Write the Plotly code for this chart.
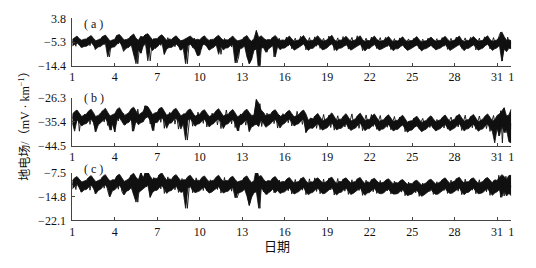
import plotly.graph_objects as go

# ---- data ----
# upper / lower envelope of the dense band, 4-hourly (6 per day), day 1 .. day 32
a_hi = [
 -4.3,-3.6,-3.0,-4.0,-4.6,-4.2,  -4.1,-3.4,-2.8,-3.9,-4.8,-4.4,  -4.0,-3.1,-2.6,-3.7,-4.9,-4.5,
 -4.2,-2.7,-2.4,-3.5,-4.5,-4.3,  -3.9,-2.9,-2.2,-3.8,-4.6,-3.1,  -3.4,-2.4,-2.1,-3.3,-4.4,-4.0,
 -4.0,-3.0,-2.5,-3.6,-4.7,-4.1,  -4.3,-3.5,-2.9,-3.9,-4.8,-4.5,  -4.1,-3.6,-3.0,-3.8,-4.5,-4.2,
 -4.4,-3.5,-2.9,-4.0,-4.7,-4.3,  -4.2,-3.3,-2.7,-3.8,-4.6,-4.4,  -4.5,-3.7,-3.0,-4.1,-4.8,-4.6,
 -4.3,-3.4,-2.8,-4.2,-5.0,-3.9,  -0.9,-3.6,-2.9,-3.7,-4.6,-4.3,  -4.4,-3.5,-2.8,-3.9,-4.7,-4.5,
 -4.6,-3.8,-3.0,-4.1,-5.0,-4.7,  -4.5,-3.6,-2.8,-4.2,-5.1,-4.6,  -4.7,-3.7,-2.9,-4.0,-4.9,-4.8,
 -4.4,-3.5,-2.7,-4.3,-5.2,-4.5,  -4.6,-3.9,-3.1,-4.1,-5.0,-4.7,  -4.5,-3.6,-2.9,-4.4,-5.1,-4.6,
 -4.8,-3.8,-3.0,-4.2,-4.9,-4.9,  -4.6,-3.9,-3.2,-4.3,-5.2,-4.7,  -4.9,-4.0,-3.3,-4.5,-5.1,-4.8,
 -4.7,-3.9,-3.2,-4.4,-5.3,-4.9,  -4.8,-4.1,-3.4,-4.3,-5.0,-4.7,  -4.6,-3.8,-3.1,-4.2,-5.1,-4.8,
 -4.5,-3.7,-3.0,-4.4,-5.2,-4.6,  -4.7,-3.9,-3.2,-4.1,-5.0,-4.8,  -4.6,-3.6,-2.9,-4.3,-5.1,-4.7,
 -4.5,-3.4,-1.4,-3.2,-4.6,-4.4,
 -4.8]
a_lo = [
 -6.8,-6.1,-5.6,-6.5,-7.4,-7.0,  -6.9,-6.3,-5.5,-6.6,-7.9,-7.2,  -7.0,-6.2,-5.7,-11.0,-7.8,-7.3,
 -7.1,-6.0,-5.4,-6.6,-8.5,-7.6,  -7.3,-6.4,-10.2,-13.6,-8.2,-9.6,  -7.0,-5.9,-12.5,-6.8,-8.6,-7.5,
 -7.2,-6.1,-5.8,-10.0,-8.0,-7.4,  -7.4,-6.5,-6.0,-7.0,-8.4,-7.7,  -13.6,-6.6,-6.1,-7.2,-8.2,-10.5,
 -10.3,-6.7,-6.0,-7.1,-8.4,-7.8,  -7.3,-6.4,-10.0,-7.0,-8.3,-7.6,  -7.5,-6.6,-6.2,-13.3,-11.2,-7.9,
 -7.6,-6.8,-11.0,-13.6,-12.0,-8.4,  -8.0,-17.0,-7.6,-7.4,-9.2,-8.1,  -7.5,-6.6,-11.0,-7.0,-8.2,-7.7,
 -7.6,-6.9,-6.2,-7.1,-8.4,-7.9,  -7.4,-6.7,-6.0,-7.3,-8.5,-7.8,  -7.7,-6.8,-6.1,-7.0,-8.3,-8.0,
 -7.5,-6.6,-5.9,-7.4,-8.6,-7.7,  -7.6,-7.0,-6.3,-7.2,-8.4,-7.9,  -7.4,-6.7,-6.1,-7.5,-8.7,-7.8,
 -7.8,-6.9,-6.2,-7.3,-8.2,-8.0,  -7.6,-7.0,-6.4,-7.4,-8.6,-7.9,  -7.9,-7.1,-6.5,-7.6,-8.5,-8.1,
 -7.7,-7.0,-6.4,-7.5,-8.7,-8.0,  -7.8,-7.2,-6.6,-7.4,-8.3,-7.9,  -7.6,-6.9,-6.3,-7.3,-8.5,-8.0,
 -7.5,-6.8,-6.2,-7.5,-8.6,-7.8,  -7.7,-7.0,-6.4,-7.2,-8.4,-8.0,  -7.6,-6.7,-6.1,-7.4,-8.5,-7.9,
 -7.5,-6.6,-12.6,-8.0,-9.0,-7.7,
 -7.8]
# 3-hourly trace (8 per day) for the ragged fine structure
a_trace = [
 -5.6,-4.1,-6.9,-3.8,-5.2,-7.3,-4.5,-6.4,  -5.0,-3.5,-6.7,-4.3,-5.9,-8.2,-4.8,-6.1,
 -4.6,-3.2,-6.3,-4.9,-7.5,-11.0,-5.7,-6.6,  -5.1,-2.8,-6.0,-3.7,-6.8,-8.9,-4.4,-7.2,
 -4.9,-3.0,-6.4,-10.1,-5.3,-13.6,-6.9,-9.5,  -4.2,-2.6,-5.8,-3.1,-12.5,-6.0,-4.0,-7.8,
 -5.0,-3.4,-6.6,-4.1,-10.0,-5.2,-3.6,-6.9,  -5.4,-3.9,-7.1,-4.6,-6.2,-8.4,-4.7,-6.3,
 -5.1,-13.6,-6.0,-4.2,-7.4,-3.8,-5.9,-10.5,  -4.8,-7.9,-3.6,-6.5,-4.9,-8.1,-4.3,-6.2,
 -5.3,-3.7,-6.8,-4.5,-10.0,-5.6,-3.9,-7.0,  -5.5,-4.0,-7.2,-4.4,-6.3,-13.3,-11.0,-5.8,
 -4.9,-3.5,-7.0,-11.0,-13.6,-12.0,-4.6,-8.0,  -0.9,-6.5,-17.0,-3.8,-7.6,-4.2,-9.2,-5.0,
 -5.7,-3.6,-11.0,-4.8,-6.9,-3.9,-7.3,-5.1,  -5.8,-3.4,-6.7,-4.5,-7.9,-5.2,-3.8,-6.5,
 -5.4,-3.1,-6.2,-4.7,-8.3,-5.5,-3.6,-6.8,  -5.6,-3.3,-6.9,-4.2,-7.7,-5.0,-3.9,-6.3,
 -5.2,-3.0,-6.4,-4.6,-8.5,-5.3,-3.7,-6.6,  -5.5,-3.2,-6.8,-4.4,-8.0,-5.1,-3.5,-6.4,
 -5.3,-2.9,-6.5,-4.8,-8.6,-5.4,-3.8,-6.7,  -5.7,-3.4,-6.6,-4.3,-7.8,-5.0,-3.6,-6.2,
 -5.4,-3.5,-7.0,-4.6,-8.2,-5.6,-4.0,-6.9,  -5.8,-3.7,-6.3,-4.9,-7.6,-5.2,-4.1,-6.5,
 -5.5,-3.9,-6.8,-4.5,-7.9,-5.7,-4.2,-6.4,  -5.9,-3.8,-6.6,-4.7,-7.5,-5.3,-4.0,-6.8,
 -5.6,-3.6,-6.9,-4.4,-8.1,-5.5,-3.9,-6.3,  -5.3,-3.4,-6.5,-4.8,-7.7,-5.1,-3.7,-6.6,
 -5.7,-3.5,-6.7,-4.6,-8.3,-5.4,-3.8,-6.9,  -5.4,-3.3,-6.4,-4.3,-7.9,-5.6,-3.6,-6.2,
 -5.6,-3.2,-1.5,-12.5,-4.1,-7.8,-3.4,-6.7,
 -5.8]

b_hi = [
 -32.6,-31.5,-30.9,-32.2,-33.4,-32.8,  -32.4,-31.2,-30.6,-32.0,-33.6,-33.0,  -32.1,-30.9,-30.2,-31.8,-33.2,-32.7,
 -32.3,-30.6,-30.0,-31.5,-33.0,-32.5,  -31.9,-30.4,-29.8,-31.3,-32.8,-32.2,  -31.5,-29.3,-29.6,-31.0,-32.6,-32.0,
 -31.8,-30.2,-29.9,-31.4,-32.9,-32.4,  -32.0,-30.7,-30.3,-31.7,-33.1,-32.6,  -32.2,-31.0,-30.5,-31.9,-33.3,-32.8,
 -32.5,-31.3,-30.8,-32.1,-33.4,-32.9,  -32.3,-31.1,-30.4,-31.8,-33.2,-32.7,  -32.6,-31.4,-30.7,-32.0,-33.5,-33.0,
 -32.4,-31.2,-30.6,-31.9,-33.0,-32.8,  -26.9,-28.3,-30.9,-31.8,-33.2,-32.6,  -32.5,-31.3,-30.8,-32.1,-33.4,-32.9,
 -32.7,-31.6,-31.0,-32.3,-33.5,-33.1,  -32.6,-31.5,-30.9,-32.4,-34.8,-34.0,  -34.3,-33.0,-32.2,-33.6,-35.0,-34.6,
 -34.1,-32.8,-32.0,-33.4,-34.9,-34.4,  -34.4,-33.1,-32.3,-33.7,-35.1,-34.7,  -34.2,-32.9,-32.1,-33.5,-35.0,-34.5,
 -34.5,-33.2,-32.4,-33.8,-35.2,-34.8,  -34.6,-33.4,-32.7,-34.0,-35.3,-34.9,  -34.8,-33.6,-32.9,-34.2,-35.6,-35.1,
 -35.0,-33.9,-33.3,-34.5,-35.7,-35.2,  -34.9,-33.8,-33.1,-34.3,-35.5,-35.0,  -34.6,-33.5,-32.8,-34.1,-35.3,-34.8,
 -34.4,-33.2,-32.5,-33.9,-35.2,-34.7,  -34.5,-33.3,-32.6,-34.0,-35.4,-34.9,  -34.3,-33.1,-32.4,-33.7,-35.1,-34.6,
 -33.0,-32.4,-31.0,-30.0,-33.2,-32.8,
 -30.5]
b_lo = [
 -35.9,-39.0,-34.6,-35.6,-37.0,-36.3,  -36.1,-35.0,-34.4,-35.8,-39.2,-36.6,  -35.8,-34.7,-34.1,-35.5,-38.6,-36.2,
 -39.3,-34.5,-33.9,-35.3,-36.7,-36.0,  -35.6,-34.3,-39.0,-35.1,-36.5,-35.8,  -35.4,-34.0,-33.5,-34.9,-38.8,-35.7,
 -35.7,-34.4,-33.8,-35.2,-37.9,-36.0,  -35.9,-34.6,-34.0,-35.4,-38.2,-36.2,  -42.4,-34.8,-34.2,-35.6,-37.1,-36.3,
 -36.1,-35.0,-34.4,-35.8,-37.4,-36.5,  -36.0,-34.9,-34.3,-35.7,-38.0,-36.4,  -36.2,-35.1,-34.5,-35.9,-38.9,-36.6,
 -36.3,-35.2,-34.6,-39.1,-37.3,-36.7,  -36.4,-37.2,-34.7,-36.0,-37.5,-36.8,  -36.2,-35.1,-34.5,-35.9,-37.8,-36.5,
 -36.0,-34.9,-34.3,-35.7,-37.0,-36.4,  -36.1,-35.0,-34.4,-39.5,-38.3,-37.8,  -37.9,-36.8,-36.0,-37.4,-38.6,-38.1,
 -37.7,-36.6,-35.8,-37.2,-38.5,-38.0,  -37.9,-36.9,-36.1,-37.5,-38.7,-38.2,  -37.8,-36.7,-35.9,-37.3,-38.8,-38.1,
 -38.0,-37.0,-36.2,-37.6,-38.9,-38.3,  -38.1,-37.1,-36.4,-37.7,-38.9,-38.4,  -38.3,-37.3,-36.6,-38.0,-39.4,-38.7,
 -38.5,-37.5,-36.9,-38.1,-39.2,-38.6,  -38.2,-37.2,-36.7,-37.9,-38.9,-38.4,  -38.0,-37.0,-36.4,-37.7,-38.8,-38.3,
 -37.8,-36.8,-36.2,-37.5,-38.9,-38.2,  -38.0,-37.0,-36.3,-37.6,-39.0,-38.4,  -38.1,-36.9,-36.2,-37.8,-39.1,-43.5,
 -38.0,-40.8,-37.0,-39.6,-38.3,-43.0,
 -43.5]
b_trace = [
 -34.2,-32.1,-35.8,-31.6,-39.0,-33.4,-36.1,-32.5,  -34.8,-31.9,-36.4,-32.8,-35.2,-39.2,-33.0,-35.9,
 -33.6,-31.2,-35.5,-32.4,-36.8,-33.1,-38.6,-34.0,  -39.3,-32.7,-35.1,-30.9,-34.6,-32.2,-36.5,-33.3,
 -34.1,-31.0,-39.0,-32.5,-35.7,-30.6,-34.9,-32.0,  -35.3,-29.3,-33.8,-30.8,-36.2,-32.6,-38.8,-33.5,
 -34.4,-30.5,-35.6,-31.4,-37.9,-33.2,-35.0,-31.8,  -34.7,-31.3,-36.3,-32.9,-38.2,-33.7,-35.4,-32.3,
 -34.5,-42.4,-35.9,-32.0,-37.1,-33.0,-35.8,-31.7,  -34.0,-32.2,-36.0,-31.5,-37.4,-33.6,-35.2,-32.1,
 -34.6,-31.8,-36.6,-32.7,-38.0,-33.9,-35.5,-30.9,  -34.3,-32.0,-36.2,-31.9,-37.6,-33.5,-38.9,-32.4,
 -34.9,-32.5,-36.7,-33.1,-39.1,-34.2,-37.3,-31.5,  -26.9,-35.0,-28.5,-37.2,-33.3,-36.0,-32.1,-35.7,
 -34.5,-31.6,-36.1,-33.0,-37.8,-32.8,-35.3,-32.3,  -34.2,-31.9,-35.8,-32.6,-37.0,-33.4,-35.6,-31.4,
 -34.6,-32.2,-36.4,-33.0,-39.5,-37.8,-36.0,-34.1,  -36.3,-33.2,-37.9,-34.5,-38.4,-35.0,-32.6,-36.2,
 -35.8,-32.9,-37.6,-34.2,-38.6,-35.3,-33.1,-36.7,  -36.0,-33.5,-37.4,-34.8,-38.1,-34.9,-32.4,-36.5,
 -35.6,-33.3,-37.9,-34.3,-38.8,-35.4,-32.8,-36.1,  -35.9,-32.6,-37.2,-34.6,-38.3,-35.1,-33.0,-36.8,
 -36.2,-33.7,-37.5,-34.9,-38.5,-35.6,-33.4,-36.4,  -35.7,-33.6,-37.0,-34.4,-39.2,-37.6,-35.2,-36.9,
 -36.4,-34.0,-37.3,-35.1,-38.0,-35.5,-34.1,-36.6,  -36.1,-34.3,-37.6,-35.2,-37.9,-35.8,-34.5,-36.3,
 -35.8,-33.9,-37.8,-34.7,-38.2,-35.0,-33.6,-36.5,  -35.5,-33.1,-37.4,-34.2,-38.7,-35.3,-32.9,-36.8,
 -35.9,-33.4,-37.7,-34.6,-38.3,-35.7,-33.2,-36.2,  -36.3,-33.8,-38.0,-34.9,-39.1,-35.4,-33.0,-36.7,
 -35.7,-40.8,-31.2,-43.5,-30.2,-39.6,-33.4,-43.0,
 -36.0]

c_hi = [
 -9.9,-9.0,-8.6,-9.5,-10.3,-10.0,  -9.7,-8.8,-8.3,-9.3,-10.2,-9.8,  -9.5,-8.5,-8.0,-9.1,-10.0,-9.6,
 -9.6,-8.3,-7.9,-9.0,-10.1,-9.7,  -9.3,-8.1,-7.6,-8.8,-9.6,-7.4,  -9.0,-7.5,-7.2,-8.5,-9.5,-9.1,
 -9.2,-7.9,-7.5,-8.7,-9.7,-9.3,  -9.5,-8.4,-8.0,-9.0,-9.9,-9.6,  -9.6,-8.6,-8.2,-9.2,-10.0,-9.7,
 -9.8,-8.8,-8.4,-9.4,-10.2,-9.9,  -9.7,-8.7,-8.2,-9.3,-10.1,-9.8,  -9.9,-8.9,-8.5,-9.5,-10.3,-10.0,
 -9.8,-8.8,-8.4,-9.6,-10.4,-9.9,  -5.8,-8.6,-8.3,-9.4,-10.2,-9.8,  -10.0,-9.0,-8.6,-9.6,-10.4,-10.1,
 -10.2,-9.3,-8.9,-9.8,-10.6,-10.3,  -10.1,-9.2,-8.8,-9.9,-10.7,-10.2,  -10.3,-9.4,-9.0,-9.7,-10.5,-10.4,
 -10.0,-9.1,-8.8,-9.9,-10.8,-10.1,  -10.2,-9.3,-9.0,-9.8,-10.6,-10.3,  -10.1,-9.2,-8.9,-10.0,-10.7,-10.2,
 -10.4,-9.5,-9.1,-9.9,-10.6,-10.5,  -10.3,-9.6,-9.3,-10.1,-10.9,-10.4,  -10.6,-9.8,-9.5,-10.3,-11.0,-10.7,
 -10.8,-10.0,-9.7,-10.5,-11.2,-10.9,  -10.5,-9.7,-9.4,-10.2,-10.9,-10.6,  -10.2,-9.4,-9.0,-9.9,-10.7,-10.3,
 -10.0,-9.2,-8.8,-9.8,-10.6,-10.2,  -10.2,-9.3,-9.0,-9.9,-10.7,-10.4,  -10.1,-9.2,-8.9,-9.7,-10.5,-9.6,
 -9.8,-8.9,-8.0,-8.6,-9.5,-8.3,
 -8.2]
c_lo = [
 -12.4,-11.6,-11.0,-12.1,-13.4,-12.7,  -12.6,-11.8,-11.2,-12.3,-13.9,-12.9,  -12.5,-11.7,-11.1,-12.2,-14.8,-13.0,
 -12.7,-11.9,-11.3,-12.4,-14.2,-13.1,  -12.8,-12.0,-14.0,-16.5,-13.6,-13.0,  -12.6,-11.7,-11.2,-15.0,-13.5,-12.9,
 -12.8,-11.9,-11.4,-12.5,-13.8,-13.1,  -12.9,-12.1,-11.6,-12.7,-13.5,-13.2,  -18.4,-12.2,-11.7,-12.8,-13.6,-13.3,
 -13.0,-12.3,-11.8,-12.9,-13.7,-13.4,  -12.9,-12.2,-11.7,-12.8,-13.7,-13.3,  -13.1,-12.4,-11.9,-15.2,-13.8,-13.5,
 -13.2,-12.5,-14.6,-17.5,-15.0,-13.6,  -13.3,-18.4,-12.1,-13.0,-14.1,-13.7,  -13.2,-12.4,-13.6,-12.9,-13.8,-13.5,
 -13.3,-12.6,-12.1,-13.1,-14.0,-13.6,  -13.2,-12.5,-12.0,-13.2,-14.2,-13.7,  -13.4,-12.7,-12.2,-13.0,-13.9,-13.8,
 -13.2,-12.5,-12.0,-13.3,-14.3,-13.6,  -13.4,-12.7,-12.2,-13.1,-14.1,-13.8,  -13.3,-12.6,-12.1,-13.4,-14.4,-13.7,
 -13.5,-12.8,-12.3,-13.2,-13.8,-13.9,  -13.6,-12.9,-12.5,-13.4,-14.0,-14.0,  -13.8,-13.1,-12.7,-13.6,-14.5,-14.2,
 -14.0,-13.3,-12.9,-13.8,-14.7,-14.3,  -13.7,-13.0,-12.6,-13.5,-14.1,-14.0,  -13.4,-12.7,-12.3,-13.2,-13.8,-13.7,
 -13.2,-12.5,-12.1,-13.3,-14.2,-13.6,  -13.4,-12.7,-12.2,-13.1,-13.9,-13.8,  -13.5,-12.8,-12.3,-13.4,-14.4,-13.7,
 -13.3,-12.6,-15.0,-12.9,-14.6,-13.8,
 -14.5]
c_trace = [
 -11.2,-9.8,-12.6,-9.3,-11.9,-13.4,-10.4,-12.1,  -10.9,-9.1,-12.8,-10.0,-11.6,-13.9,-10.2,-12.4,
 -10.6,-8.8,-12.2,-10.3,-12.9,-14.8,-11.0,-12.7,  -11.3,-8.6,-12.5,-9.4,-13.2,-14.2,-10.5,-12.3,
 -10.8,-8.3,-12.1,-14.0,-10.7,-16.5,-11.5,-7.4,  -10.2,-7.6,-11.8,-7.2,-15.0,-11.3,-8.9,-12.6,
 -10.7,-8.1,-12.4,-9.0,-13.8,-11.1,-8.7,-12.0,  -11.1,-8.9,-12.7,-9.6,-13.5,-11.4,-9.2,-12.5,
 -10.9,-18.4,-12.3,-9.5,-13.6,-10.8,-9.0,-12.2,  -11.4,-9.4,-12.9,-10.1,-13.0,-11.7,-9.6,-12.6,
 -11.0,-9.2,-12.6,-9.8,-13.7,-11.2,-8.9,-12.8,  -11.3,-9.5,-13.1,-10.2,-12.4,-15.2,-13.8,-11.6,
 -10.8,-9.0,-12.7,-14.6,-17.5,-15.0,-10.3,-12.9,  -5.8,-12.2,-18.4,-9.1,-13.3,-10.0,-14.1,-11.5,
 -11.7,-9.3,-13.6,-10.4,-12.8,-9.7,-13.4,-11.2,  -11.9,-9.6,-13.0,-10.6,-14.0,-11.4,-9.5,-12.7,
 -11.5,-9.2,-12.8,-10.3,-14.2,-11.8,-9.3,-12.9,  -11.8,-9.0,-13.2,-10.5,-13.9,-11.6,-9.4,-12.6,
 -11.4,-9.1,-12.7,-10.7,-14.3,-11.3,-9.2,-13.0,  -11.7,-9.4,-13.1,-10.2,-14.1,-11.9,-9.6,-12.8,
 -11.6,-9.3,-12.9,-10.8,-14.4,-11.5,-9.7,-12.5,  -12.0,-9.5,-13.3,-10.4,-13.8,-11.7,-9.8,-12.9,
 -11.8,-9.9,-13.0,-10.9,-14.0,-12.1,-10.0,-13.2,  -12.1,-10.2,-13.4,-11.0,-14.5,-12.3,-10.3,-13.1,
 -12.3,-10.4,-13.6,-11.2,-14.7,-12.0,-10.6,-13.3,  -12.0,-10.1,-13.2,-10.8,-14.1,-11.8,-10.2,-12.8,
 -11.7,-9.6,-12.9,-10.5,-13.8,-11.5,-9.7,-12.6,  -11.5,-9.2,-13.1,-10.3,-14.2,-11.9,-9.4,-12.7,
 -11.8,-9.5,-12.8,-10.6,-13.9,-11.4,-9.6,-13.0,  -12.0,-9.8,-13.3,-10.7,-14.4,-11.7,-9.9,-12.9,
 -11.6,-8.2,-15.0,-9.0,-14.6,-8.5,-13.8,-10.1,
 -11.9]

env_per_day = 6
trace_per_day = 8
x_tick_vals = [1, 4, 7, 10, 13, 16, 19, 22, 25, 28, 31, 32]
x_tick_text = ["1", "4", "7", "10", "13", "16", "19", "22", "25", "28", "31", "1"]
y_ticks_a = [3.8, -5.3, -14.4]
y_ticks_b = [-26.3, -35.4, -44.5]
y_ticks_c = [-7.5, -14.8, -22.1]
panel_labels = ["( a )", "( b )", "( c )"]

# page body has an 8px margin: figure is placed at (8, 8)
OFF = 8
W, H = 528, 260
FONT = "Liberation Serif, Times New Roman, Noto Sans CJK SC, serif"
INK = "#111111"

def px(xp):
    return (xp - OFF) / W

def py(yp):
    return 1 - (yp - OFF) / H

def times(n, per_day):
    return [1 + i / per_day for i in range(n)]

fig = go.Figure()
panels = [
    (a_hi, a_lo, a_trace, y_ticks_a, (11.5, 61.7), (80, 17)),
    (b_hi, b_lo, b_trace, y_ticks_b, (95.7, 146.0), (80, 96)),
    (c_hi, c_lo, c_trace, y_ticks_c, (175.0, 225.0), (80, 171)),
]
xdom = [px(70), px(514)]
for i, (hi, lo, tr, yt, (top, bot), (lx, ly)) in enumerate(panels):
    n = i + 1
    sfx = "" if n == 1 else str(n)
    common = dict(xaxis="x" + sfx, yaxis="y" + sfx, showlegend=False, hoverinfo="skip")
    fig.add_trace(go.Scatter(x=times(len(lo), env_per_day), y=lo, mode="lines",
                             line=dict(color=INK, width=0.8), **common))
    fig.add_trace(go.Scatter(x=times(len(hi), env_per_day), y=hi, mode="lines",
                             fill="tonexty", fillcolor=INK,
                             line=dict(color=INK, width=0.8), **common))
    fig.add_trace(go.Scatter(x=times(len(tr), trace_per_day), y=tr, mode="lines",
                             line=dict(color=INK, width=0.9), **common))
    axis_common = dict(showline=True, linecolor="#444444", linewidth=1,
                       ticks="inside", ticklen=3, tickcolor="#444444",
                       showgrid=False, zeroline=False,
                       tickfont=dict(family=FONT, size=12, color=INK))
    fig.layout["xaxis" + sfx] = dict(
        domain=xdom, range=[1, 32], anchor="y" + sfx,
        tickmode="array", tickvals=x_tick_vals, ticktext=x_tick_text, **axis_common)
    fig.layout["yaxis" + sfx] = dict(
        domain=[py(bot), py(top)], range=[yt[2], yt[0]], anchor="x" + sfx,
        tickmode="array", tickvals=yt, ticklabelstandoff=3,
        ticktext=[("\u2212" + str(abs(v))) if v < 0 else str(v) for v in yt],
        **axis_common)
    fig.add_annotation(text=panel_labels[i], xref="paper", yref="paper",
                       x=px(lx), y=py(ly), xanchor="left", yanchor="middle",
                       showarrow=False, font=dict(family=FONT, size=12, color=INK))

fig.add_annotation(text="地电场/（mV · km<sup>−1</sup>）", xref="paper", yref="paper",
                   x=px(22), y=py(122), textangle=-90, showarrow=False,
                   xanchor="center", yanchor="middle",
                   font=dict(family=FONT, size=12, color=INK))
fig.add_annotation(text="日期", xref="paper", yref="paper",
                   x=px(277), y=py(253), showarrow=False,
                   xanchor="center", yanchor="middle",
                   font=dict(family=FONT, size=13, color=INK))

fig.update_layout(width=W, height=H, margin=dict(l=0, r=0, t=0, b=0),
                  paper_bgcolor="white", plot_bgcolor="white")
fig.write_html("out.html")
